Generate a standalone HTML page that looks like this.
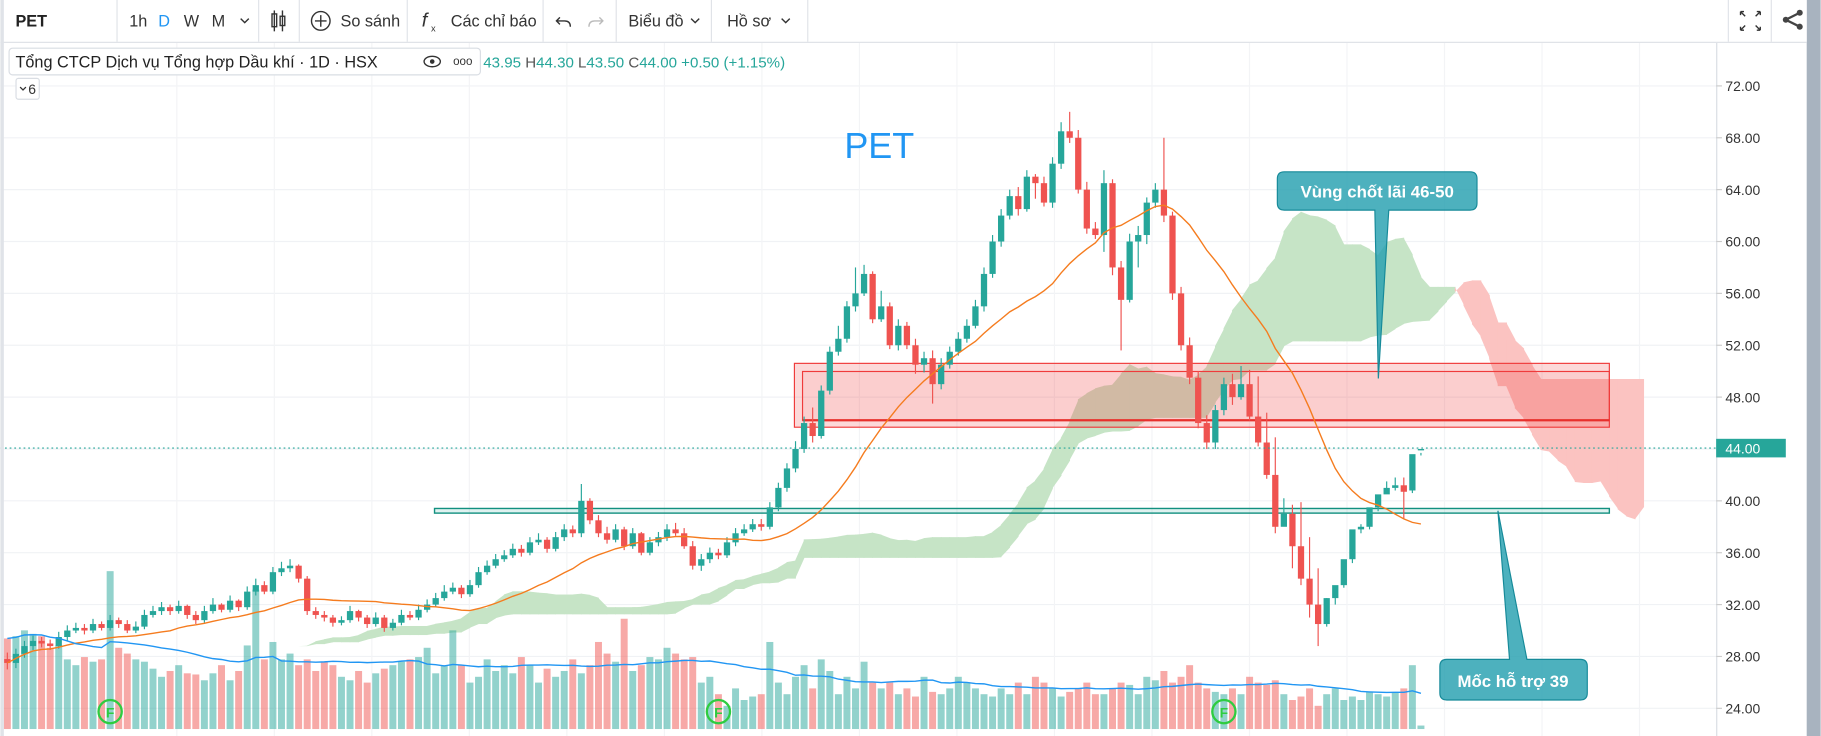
<!DOCTYPE html>
<html><head><meta charset="utf-8"><style>
html,body{margin:0;padding:0;background:#fff;overflow:hidden}
svg{display:block}
text{font-family:"Liberation Sans","DejaVu Sans",sans-serif}
</style></head><body>
<svg id="c" width="1821" height="736" viewBox="0 0 1568 634" xmlns="http://www.w3.org/2000/svg">
<rect x="0" y="0" width="1568" height="634" fill="#fff"/>
<g id="grid"></g>
<g id="cloud"></g>
<g id="vol"></g>
<g id="zones">
  <rect x="684" y="313" width="702" height="55" fill="rgba(242,80,80,0.22)" stroke="#ef3b3b" stroke-width="1"/>
  <rect x="691" y="320" width="695" height="42" fill="rgba(242,80,80,0.08)" stroke="#ef3b3b" stroke-width="1"/>
  <line x1="691" y1="362" x2="1386" y2="362" stroke="#e8302c" stroke-width="2"/>
  <rect x="374" y="438" width="1012" height="4" fill="rgba(38,166,154,0.15)" stroke="#12907f" stroke-width="1.2"/>
</g>
<g id="candles"></g>
<g id="lines"></g>
<line x1="0" y1="386" x2="1478" y2="386" stroke="#26a69a" stroke-width="1" stroke-dasharray="1.5,2.5"/>
<text x="727" y="136" font-size="31" fill="#2196f3" font-family="DejaVu Sans, sans-serif">PET</text>
<g>
  <path d="M1109,148 H1266 Q1272,148 1272,154 V175 Q1272,181 1266,181 H1196 L1187,326 L1184,181 H1106 Q1100,181 1100,175 V154 Q1100,148 1106,148 Z" fill="rgba(38,160,176,0.82)" stroke="#168a99" stroke-width="1"/>
  <text x="1186" y="170" font-size="14.5" fill="#fff" text-anchor="middle" font-family="DejaVu Sans, sans-serif" font-weight="bold">Vùng chốt lãi 46-50</text>
</g>
<g>
  <path d="M1290,440 L1315,568 H1361 Q1367,568 1367,574 V597 Q1367,603 1361,603 H1246 Q1240,603 1240,597 V574 Q1240,568 1246,568 H1300 Z" fill="rgba(38,160,176,0.82)" stroke="#168a99" stroke-width="1"/>
  <text x="1303" y="592" font-size="14.5" fill="#fff" text-anchor="middle" font-family="DejaVu Sans, sans-serif" font-weight="bold">Mốc hỗ trợ 39</text>
</g>
<g id="fmarks"></g>
<rect x="1478" y="37" width="78" height="597" fill="#fff"/>
<line x1="1478.5" y1="37" x2="1478.5" y2="634" stroke="#d9dde3"/>
<g id="axis"></g>
<rect x="1478" y="378" width="60" height="16" fill="#26a69a"/>
<text x="1486" y="390.5" font-size="12" fill="#fff" font-family="DejaVu Sans, sans-serif">44.00</text>
<rect x="1556" y="0" width="12" height="634" fill="#a8b3bf"/>
<g>
  <rect x="0" y="0" width="1556" height="36" fill="#fff"/>
  <line x1="0" y1="36.5" x2="1556" y2="36.5" stroke="#e0e3e8"/>
  <line x1="1.5" y1="0" x2="1.5" y2="634" stroke="#e0e3e8" stroke-width="3"/>
  <text x="13" y="23" font-size="14" font-weight="bold" fill="#222">PET</text>
  <line x1="100.5" y1="0" x2="100.5" y2="36" stroke="#e0e3e8"/>
  <text x="111" y="23" font-size="14" fill="#333">1h</text>
  <text x="136" y="23" font-size="14" fill="#2196f3">D</text>
  <text x="158" y="23" font-size="14" fill="#333">W</text>
  <text x="182" y="23" font-size="14" fill="#333">M</text>
  <path d="M207,16 l3.5,3.5 l3.5,-3.5" fill="none" stroke="#333" stroke-width="1.2"/>
  <line x1="222.5" y1="0" x2="222.5" y2="36" stroke="#e0e3e8"/>
  <g stroke="#333" fill="none" stroke-width="1.2">
    <line x1="236" y1="9" x2="236" y2="27"/><rect x="234" y="12" width="4" height="11"/>
    <line x1="243" y1="9" x2="243" y2="27"/><rect x="241" y="14" width="4" height="8"/>
  </g>
  <line x1="257.5" y1="0" x2="257.5" y2="36" stroke="#e0e3e8"/>
  <g>
    <circle cx="276" cy="18" r="8" fill="none" stroke="#333" stroke-width="1.2"/>
    <path d="M276,13 v10 M271,18 h10" stroke="#333" stroke-width="1.2"/>
    <text x="293" y="23" font-size="14" fill="#333">So sánh</text>
  </g>
  <line x1="350.5" y1="0" x2="350.5" y2="36" stroke="#e0e3e8"/>
  <g>
    <text x="363" y="23" font-size="17" font-style="italic" fill="#333">f</text>
    <text x="371" y="27" font-size="8" fill="#333">x</text>
    <text x="388" y="23" font-size="14" fill="#333">Các chỉ báo</text>
  </g>
  <line x1="467.5" y1="0" x2="467.5" y2="36" stroke="#e0e3e8"/>
  <path d="M482,15 l-3,3 l3,3 M479,18 h7 q5,0 5,5" fill="none" stroke="#333" stroke-width="1.2"/>
  <path d="M516,15 l3,3 l-3,3 M519,18 h-7 q-5,0 -5,5" fill="none" stroke="#bbb" stroke-width="1.2"/>
  <line x1="530.5" y1="0" x2="530.5" y2="36" stroke="#e0e3e8"/>
  <text x="541" y="23" font-size="14" fill="#333">Biểu đồ</text>
  <path d="M595,16 l3.5,3.5 l3.5,-3.5" fill="none" stroke="#333" stroke-width="1.2"/>
  <line x1="612.5" y1="0" x2="612.5" y2="36" stroke="#e0e3e8"/>
  <text x="626" y="23" font-size="14" fill="#333">Hồ sơ</text>
  <path d="M673,16 l3.5,3.5 l3.5,-3.5" fill="none" stroke="#333" stroke-width="1.2"/>
  <line x1="695.5" y1="0" x2="695.5" y2="36" stroke="#e0e3e8"/>
  <line x1="1488.5" y1="0" x2="1488.5" y2="36" stroke="#e0e3e8"/>
  <g stroke="#333" stroke-width="1.2" fill="none">
    <path d="M1499,10 l4,4 M1499,10 h3 M1499,10 v3 M1516,10 l-4,4 M1516,10 h-3 M1516,10 v3 M1499,26 l4,-4 M1499,26 h3 M1499,26 v-3 M1516,26 l-4,-4 M1516,26 h-3 M1516,26 v-3"/>
  </g>
  <line x1="1525.5" y1="0" x2="1525.5" y2="36" stroke="#e0e3e8"/>
  <g fill="#444">
    <circle cx="1550" cy="11" r="2.6"/><circle cx="1538" cy="17" r="2.6"/><circle cx="1550" cy="23" r="2.6"/>
    <path d="M1550,11 L1538,17 L1550,23" stroke="#444" stroke-width="2" fill="none"/>
  </g>
</g>
<g>
  <rect x="7.5" y="41.5" width="406" height="23" rx="3" fill="#fff" stroke="#d9dde3"/>
  <text x="13" y="58" font-size="14" fill="#222">Tổng CTCP Dịch vụ Tổng hợp Dầu khí · 1D · HSX</text>
  <g><ellipse cx="372" cy="53" rx="7" ry="4.5" fill="none" stroke="#333" stroke-width="1.2"/><circle cx="372" cy="53" r="2" fill="#333"/></g>
  <text x="390" y="56" font-size="10" fill="#333">ooo</text>
  <text x="416" y="58" font-size="13" fill="#26a69a">43.95 <tspan fill="#555">H</tspan>44.30 <tspan fill="#555">L</tspan>43.50 <tspan fill="#555">C</tspan>44.00 +0.50 (+1.15%)</text>
  <rect x="13.5" y="67.5" width="20" height="18" rx="2" fill="#fff" stroke="#d9dde3"/>
  <path d="M17,75 l2.5,2.5 l2.5,-2.5" fill="none" stroke="#333" stroke-width="1.1"/>
  <text x="24" y="81" font-size="12" fill="#333">6</text>
</g>
</svg>
<script>
const ticks = [72,68,64,60,56,52,48,44,40,36,32,28,24];
const closes = [27.5,28.2,28.8,29.2,29.0,28.8,29.5,30.0,30.2,30.0,30.5,30.2,30.8,30.5,30.0,30.3,31.2,31.5,31.8,31.5,31.9,31.2,30.8,31.5,32.0,31.6,32.3,31.8,33.0,33.5,33.0,34.5,34.8,35.0,34.0,31.5,31.2,31.0,30.6,30.8,31.5,31.0,30.5,31.0,30.2,30.6,31.2,31.0,31.6,32.0,32.5,33.0,33.3,32.8,33.5,34.5,35.0,35.5,35.8,36.3,36.0,36.8,37.0,36.3,37.2,37.8,37.5,40.0,38.5,37.5,37.0,37.8,36.5,37.5,36.0,36.8,37.2,37.8,37.5,36.5,35.0,35.5,36.0,35.8,36.8,37.5,37.8,38.2,38.0,39.5,41.0,42.5,44.0,46.0,45.0,48.5,51.5,52.5,55.0,56.0,57.5,54.0,55.0,52.0,53.5,52.0,50.5,51.0,49.0,50.5,51.5,52.5,53.5,55.0,57.5,60.0,62.0,63.5,62.5,65.0,64.5,63.0,66.0,68.5,68.0,64.0,61.0,60.5,64.5,58.0,55.5,60.0,60.5,63.0,64.0,62.0,56.0,52.0,49.5,46.0,44.5,47.0,49.0,48.0,49.0,46.5,44.5,42.0,38.0,39.0,36.5,34.0,32.0,30.5,32.5,33.5,35.5,37.8,38.0,39.5,40.5,41.0,41.2,40.7,43.6,44.0];
const opens = [27.8,27.5,28.2,28.8,29.2,29.0,28.8,29.5,30.0,30.2,30.0,30.5,30.2,30.8,30.5,30.0,30.3,31.2,31.5,31.8,31.5,31.9,31.2,30.8,31.5,32.0,31.6,32.3,31.8,33.0,33.5,33.0,34.5,34.8,35.0,34.0,31.5,31.2,31.0,30.6,30.8,31.5,31.0,30.5,31.0,30.2,30.6,31.2,31.0,31.6,32.0,32.5,33.0,33.3,32.8,33.5,34.5,35.0,35.5,35.8,36.3,36.0,36.8,37.0,36.3,37.2,37.8,37.5,40.0,38.5,37.5,37.0,37.8,36.5,37.5,36.0,36.8,37.2,37.8,37.5,36.5,35.0,35.5,36.0,35.8,36.8,37.5,37.8,38.2,38.0,39.5,41.0,42.5,44.0,46.0,45.0,48.5,51.5,52.5,55.0,56.0,57.5,54.0,55.0,52.0,53.5,52.0,50.5,51.0,49.0,50.5,51.5,52.5,53.5,55.0,57.5,60.0,62.0,63.5,62.5,65.0,64.5,63.0,66.0,68.5,68.0,64.0,61.0,60.5,64.5,58.0,55.5,60.0,60.5,63.0,64.0,62.0,56.0,52.0,49.5,46.0,44.5,47.0,49.0,48.0,49.0,46.5,44.5,42.0,38.0,39.0,36.5,34.0,32.0,30.5,32.5,33.5,35.5,37.8,38.0,39.5,40.5,41.0,41.2,40.8,43.95];
const highs = [28.3,28.6,29.2,29.6,29.5,29.3,29.9,30.4,30.6,30.5,30.9,30.7,31.2,31.0,30.8,30.7,31.6,31.9,32.2,32.0,32.3,32.0,31.5,31.9,32.5,32.1,32.7,32.4,33.4,34.0,33.8,34.9,35.3,35.5,35.1,34.2,31.8,31.5,31.2,31.1,31.9,31.6,31.2,31.4,31.2,30.9,31.6,31.5,32.0,32.4,32.9,33.5,33.7,33.5,33.9,34.9,35.4,35.9,36.2,36.7,36.6,37.2,37.5,37.2,37.6,38.2,38.1,41.3,40.2,38.9,38.0,38.2,38.0,37.9,37.6,37.2,37.6,38.2,38.3,37.9,36.9,35.9,36.4,36.3,37.2,37.9,38.2,38.6,38.6,39.9,41.4,42.9,44.6,46.5,47.2,48.9,51.9,53.5,55.4,58.0,58.2,57.7,56.2,55.3,54.0,53.8,52.5,51.5,51.6,51.0,51.9,53.0,54.0,55.5,58.0,60.5,62.5,64.0,64.2,65.5,65.2,65.0,66.5,69.2,70.0,68.6,64.6,61.5,65.5,64.8,58.5,60.6,61.2,63.4,64.5,68.0,62.3,56.5,52.6,50.0,46.6,47.4,49.5,49.8,50.4,50.1,49.6,46.8,44.9,40.2,39.7,39.9,37.2,34.8,32.5,33.0,34.6,36.0,38.2,38.5,40.4,41.5,41.8,41.8,41.5,43.7,44.3];
const lows = [27.0,27.1,27.9,28.5,28.7,28.5,28.6,29.2,29.8,29.7,29.8,30.0,30.0,30.2,29.8,29.8,30.1,31.0,31.2,31.2,31.3,30.9,30.5,30.6,31.3,31.4,31.4,31.5,31.6,32.7,32.8,32.8,34.2,34.5,33.7,31.2,30.9,30.7,30.3,30.4,30.6,30.7,30.2,30.3,29.9,30.0,30.4,30.8,30.8,31.4,31.8,32.3,32.8,32.5,32.6,33.3,34.3,34.8,35.3,35.6,35.7,35.8,36.6,36.0,36.1,36.9,37.2,37.2,38.2,37.2,36.7,36.8,36.2,36.3,35.8,35.8,36.5,36.9,37.3,36.3,34.7,34.6,35.2,35.5,35.6,36.5,37.3,37.6,37.7,37.8,39.2,40.7,42.2,43.7,44.5,44.8,48.2,51.2,52.2,54.6,55.8,53.7,53.8,51.7,51.6,51.7,49.8,49.9,47.5,48.6,50.2,51.2,52.2,53.3,54.6,57.2,59.6,61.7,62.0,62.3,63.3,62.7,62.6,65.6,67.6,63.7,60.6,60.2,59.2,57.4,51.6,55.3,58.0,59.8,62.6,61.5,55.5,51.6,49.0,45.6,44.0,44.0,46.6,47.4,47.8,46.2,44.2,41.7,37.5,38.6,34.8,33.5,31.0,28.8,30.3,32.0,33.3,35.2,37.5,37.8,39.2,40.7,40.8,38.6,40.6,43.5];
const volumes = [78,80,85,82,80,70,72,60,55,62,58,60,136,70,65,60,58,52,45,50,55,48,47,42,48,55,42,50,72,120,60,75,60,65,55,60,50,58,55,45,42,50,40,48,52,55,58,60,62,70,48,55,85,55,40,45,60,50,55,48,62,55,40,52,45,50,60,48,55,75,65,58,95,50,55,62,60,70,65,60,62,40,45,30,20,35,25,28,30,75,40,30,45,55,35,60,50,30,45,35,58,40,35,40,30,35,28,45,32,30,35,45,40,35,30,28,35,30,40,30,45,40,35,28,32,35,40,30,30,35,40,38,30,45,42,50,40,45,55,40,35,32,30,35,30,45,40,38,42,30,25,28,35,20,30,35,25,28,25,32,30,28,32,35,55,3];
const fMarks = [12,83,142];

const NS = "http://www.w3.org/2000/svg";
const X0 = 6, DX = 7.38, YTOP = 74, PPU = 11.17, VBASE = 628;
function xs(i){ return X0 + i*DX; }
function ys(p){ return YTOP + (72-p)*PPU; }
function mk(tag, attrs, parent){ const e=document.createElementNS(NS,tag); for(const k in attrs) e.setAttribute(k,attrs[k]); parent.appendChild(e); return e; }

const grid = document.getElementById('grid'), axis = document.getElementById('axis');
ticks.forEach(t=>{
  const y = ys(t);
  const gl = mk('line',{x1:0,y1:y,x2:1478,y2:y,stroke:'#f0f2f5'},grid);
  
  
  mk('line',{x1:1478,y1:y,x2:1483,y2:y,stroke:'#ccc'},axis);
  const tx = mk('text',{x:1486,y:y+4.5,'font-size':12,fill:'#333','font-family':'DejaVu Sans, sans-serif'},axis);
  tx.textContent = t.toFixed(2);
  
  
});
for(let gx=152; gx<1478; gx+=84){
  const vl = mk('line',{x1:gx,y1:37,x2:gx,y2:634,stroke:'#f3f4f6'},grid);
  
  
}

const N = closes.length;
function hl(end, len){ let h=-1e9,l=1e9; for(let k=Math.max(0,end-len+1);k<=end;k++){h=Math.max(h,highs[k]);l=Math.min(l,lows[k]);} return (h+l)/2; }
const spanA=[], spanB=[];
for(let i=0;i<N;i++){ spanA.push((hl(i,9)+hl(i,26))/2); spanB.push(hl(i,52)); }
const cloud = document.getElementById('cloud');
for(let i=0;i<N-1;i++){
  const xa=xs(i+26)-0.3, xb=xs(i+27)+0.3;
  const g = (spanA[i]+spanA[i+1]) >= (spanB[i]+spanB[i+1]);
  const col = g?'#c6e4c6':'#fbc3c1';
  const poly = mk('polygon',{points:`${xa},${ys(spanA[i])} ${xb},${ys(spanA[i+1])} ${xb},${ys(spanB[i+1])} ${xa},${ys(spanB[i])}`,fill:col},cloud);
  
  
}

const vol = document.getElementById('vol');
for(let i=0;i<N;i++){
  const up = closes[i]>=opens[i];
  const r = mk('rect',{x:xs(i)-3,y:VBASE-volumes[i],width:6,height:volumes[i],fill:up?'rgba(38,166,154,0.5)':'rgba(239,83,80,0.5)'},vol);
  
  
}

const cg = document.getElementById('candles');
for(let i=0;i<N;i++){
  const up = closes[i]>=opens[i], col = up?'#26a69a':'#ef5350';
  const x = xs(i);
  const w = mk('line',{x1:x,y1:ys(highs[i]),x2:x,y2:ys(lows[i]),stroke:col,'stroke-width':1},cg);
  
  
  const top = ys(Math.max(opens[i],closes[i])), bot = ys(Math.min(opens[i],closes[i]));
  const b = mk('rect',{x:x-2.7,y:top,width:5.4,height:Math.max(1.2,bot-top),fill:col},cg);
  
  
}

const lines = document.getElementById('lines');
function sma(arr,i,n){ let s=0,c=0; for(let k=Math.max(0,i-n+1);k<=i;k++){s+=arr[k];c++;} return s/c; }
let pMa='', pVma='';
for(let i=0;i<N;i++){
  pMa += (i?'L':'M')+xs(i)+','+ys(sma(closes,i,20));
  pVma += (i?'L':'M')+xs(i)+','+(VBASE-sma(volumes,i,20));
}
const ma = mk('path',{d:pMa,fill:'none',stroke:'#f57c1f','stroke-width':1.2},lines);


const vma = mk('path',{d:pVma,fill:'none',stroke:'#2196f3','stroke-width':1.2},lines);



const fm = document.getElementById('fmarks');
fMarks.forEach(i=>{
  const c = mk('circle',{cx:xs(i),cy:613,r:10,fill:'none',stroke:'#2ecc40','stroke-width':2},fm);
  
  
  const t = mk('text',{x:xs(i),y:618,'font-size':12,'font-weight':'bold',fill:'#2ecc40','text-anchor':'middle'},fm);
  t.textContent='F';
  
  
});
</script>
</body></html>
